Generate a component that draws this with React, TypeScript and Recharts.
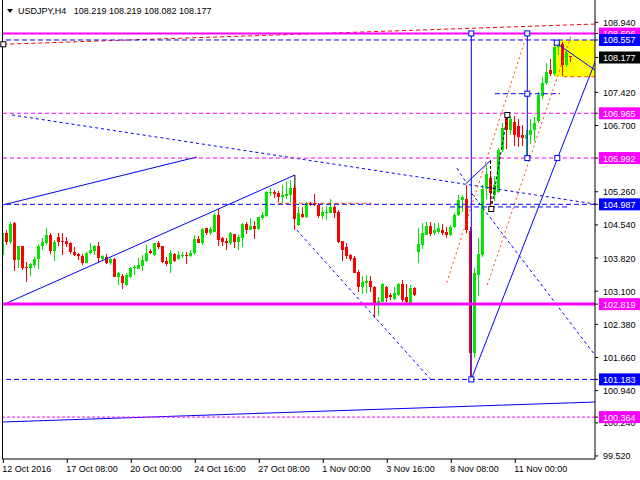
import React from 'react';
import {
  ComposedChart,
  Bar,
  XAxis,
  YAxis,
  ReferenceLine,
  ReferenceArea,
  ReferenceDot,
} from 'recharts';

// USDJPY H4 candles, left to right
const OPEN = [
  103.886, 104.371, 104.176, 104.574, 103.777, 104.081, 103.618, 103.596, 103.669, 103.792,
  104.081, 104.139, 104.32, 103.98, 104.284, 104.197, 104.197, 104.154, 103.958, 103.908,
  103.871, 103.719, 103.922, 103.973, 104.081, 103.799, 103.85, 103.705, 103.799, 103.401,
  103.43, 103.235, 103.416, 103.597, 103.582, 103.647, 103.763, 103.973, 103.886, 104.14,
  104.082, 103.763, 103.691, 103.908, 103.792, 103.865, 103.879, 103.865, 103.922, 104.234,
  104.14, 104.466, 104.357, 104.393, 104.755, 104.248, 104.198, 104.14, 104.335, 104.176,
  104.248, 104.56, 104.429, 104.516, 104.444, 104.683, 104.734, 105.226, 105.262, 105.241,
  105.139, 105.168, 105.19, 105.335, 104.538, 104.777, 104.719, 105.023, 105.009, 104.973,
  104.734, 104.806, 104.806, 104.936, 104.828, 104.198, 104.053, 103.89, 103.81, 103.52,
  103.2, 103.27, 103.33, 103.2, 102.82, 102.87, 103.2, 103.02, 102.92, 103.02,
  103.26, 102.97, 102.84, 103.16, 103.96, 104.1, 104.32, 104.52, 104.36, 104.38,
  104.43, 104.39, 104.32, 104.5, 104.76, 105.08, 105.1, 104.41, 101.75, 103.45,
  103.89, 105.33, 105.55, 105.2, 105.26, 106.17, 106.86, 106.6, 106.78, 106.69,
  106.49, 106.4, 106.5, 106.6, 106.8, 107.33, 107.62, 107.9, 107.82, 108.4,
  108.48, 108.01, 108.219,
];
const HIGH = [
  104.465, 104.429, 104.61, 104.596, 104.09, 104.09, 103.741, 103.719, 103.85, 104.125,
  104.248, 104.465, 104.371, 104.212, 104.357, 104.371, 104.284, 104.16, 104.067, 103.922,
  103.908, 103.958, 104.139, 104.103, 104.176, 103.886, 103.908, 103.813, 103.81, 103.524,
  103.473, 103.488, 103.633, 103.669, 103.814, 103.886, 104.104, 104.009, 104.154, 104.19,
  104.09, 103.836, 103.995, 103.922, 103.98, 103.959, 103.959, 103.995, 104.314, 104.299,
  104.466, 104.48, 104.487, 104.792, 104.878, 104.285, 104.248, 104.393, 104.34, 104.321,
  104.589, 104.611, 104.683, 104.632, 104.719, 104.828, 105.284, 105.335, 105.298, 105.284,
  105.407, 105.48, 105.516, 105.4, 104.936, 104.922, 105.045, 105.045, 105.212, 105.023,
  104.922, 104.951, 105.096, 104.973, 104.864, 104.2, 104.154, 103.9, 103.86, 103.56,
  103.42, 103.45, 103.43, 103.21, 102.98, 103.27, 103.21, 103.05, 103.18, 103.27,
  103.34, 103.26, 103.24, 103.2, 104.47, 104.59, 104.61, 104.61, 104.59, 104.59,
  104.55, 104.5, 104.54, 104.79, 105.19, 105.19, 105.41, 104.5, 103.6, 104.25,
  105.41, 105.84, 105.66, 105.6, 106.2, 106.75, 106.95, 106.9, 106.9, 106.85,
  106.7, 106.6, 106.85, 106.88, 107.43, 107.76, 108.05, 108.14, 108.557, 108.55,
  108.52, 108.34, 108.219,
];
const LOW = [
  103.777, 104.103, 104.139, 103.524, 103.618, 103.56, 103.306, 103.43, 103.618, 103.574,
  103.995, 104.103, 103.922, 103.763, 104.067, 103.886, 104.067, 103.908, 103.864, 103.777,
  103.669, 103.71, 103.908, 103.886, 103.719, 103.755, 103.69, 103.669, 103.393, 103.234,
  103.14, 103.213, 103.401, 103.452, 103.575, 103.546, 103.741, 103.908, 103.865, 104.017,
  103.72, 103.647, 103.502, 103.72, 103.778, 103.836, 103.691, 103.85, 103.886, 104.14,
  104.104, 104.335, 104.321, 104.386, 104.082, 104.082, 103.995, 104.104, 104.031, 103.995,
  104.067, 104.357, 104.415, 104.248, 104.429, 104.661, 104.719, 105.154, 105.117, 105.045,
  105.009, 105.117, 105.009, 104.429, 104.53, 104.683, 104.705, 104.951, 104.951, 104.705,
  104.661, 104.647, 104.792, 104.683, 104.14, 103.763, 103.814, 103.74, 103.49, 103.09,
  103.02, 103.05, 103.09, 102.51, 102.56, 102.85, 102.87, 102.89, 102.89, 102.98,
  102.87, 102.85, 102.82, 103.0, 103.71, 104.03, 104.32, 104.3, 104.34, 104.36,
  104.32, 104.27, 104.3, 104.47, 104.73, 104.83, 104.36, 101.183, 101.64, 102.98,
  103.85, 105.1, 104.89, 105.05, 105.23, 106.13, 106.2, 106.49, 106.24, 106.24,
  106.24, 105.99, 106.31, 106.35, 106.76, 107.29, 107.58, 107.76, 107.78, 108.22,
  107.78, 107.98, 108.082,
];
const CLOSE = [
  104.371, 104.176, 104.559, 103.777, 104.081, 103.596, 103.596, 103.69, 103.799, 104.081,
  104.161, 104.32, 103.973, 104.176, 104.176, 104.176, 104.125, 103.944, 103.886, 103.864,
  103.719, 103.922, 103.995, 104.081, 103.813, 103.864, 103.705, 103.799, 103.415, 103.487,
  103.271, 103.452, 103.611, 103.633, 103.669, 103.778, 103.937, 103.922, 104.14, 104.053,
  103.741, 103.691, 103.922, 103.763, 103.886, 103.886, 103.865, 103.937, 104.227, 104.154,
  104.444, 104.357, 104.444, 104.755, 104.212, 104.176, 104.14, 104.357, 104.176, 104.285,
  104.56, 104.429, 104.516, 104.444, 104.705, 104.755, 105.262, 105.262, 105.212, 105.139,
  105.19, 105.212, 105.335, 104.661, 104.806, 104.719, 105.009, 104.973, 104.973, 104.734,
  104.828, 104.828, 104.936, 104.806, 104.176, 103.995, 103.865, 103.79, 103.5, 103.2,
  103.31, 103.33, 103.2, 102.82, 102.89, 103.26, 102.95, 102.97, 103.05, 103.26,
  102.91, 102.87, 103.16, 103.02, 104.13, 104.36, 104.52, 104.34, 104.42, 104.47,
  104.37, 104.32, 104.5, 104.76, 105.08, 105.15, 104.43, 101.75, 103.49, 103.91,
  105.33, 105.65, 105.24, 105.4, 106.17, 106.64, 106.6, 106.84, 106.49, 106.45,
  106.42, 106.5, 106.6, 106.76, 107.36, 107.62, 107.86, 107.82, 108.4, 108.52,
  108.01, 108.27, 108.177,
];

const TIME_TICKS = [0, 16, 32, 48, 64, 80, 96, 112, 128];
const TIME_LABELS = [
  '12 Oct 2016', '17 Oct 08:00', '20 Oct 00:00', '24 Oct 16:00', '27 Oct 08:00',
  '1 Nov 00:00', '3 Nov 16:00', '8 Nov 08:00', '11 Nov 00:00',
];

const PRICE_TICKS = [108.94, 107.42, 106.7, 105.26, 104.54, 103.82, 103.1, 102.38, 101.66, 100.94, 100.24, 99.52];
const MAGENTA_LEVELS = [108.696, 106.965, 105.992, 102.819, 100.364];
const BLUE_LEVELS = [108.557, 104.987, 101.183];
const LAST_PRICE = 108.177;

// drawn objects, as [bar index, price] end points
const BLUE_SOLID: number[][][] = [
  [[-0.2, 104.972], [48.4, 106.015]],
  [[-0.2, 102.8], [72.9, 105.624]],
  [[-0.2, 100.258], [147.9, 100.692]],
  [[117, 101.183], [148.35, 108.17]],
  [[138.35, 108.485], [148.35, 107.877]],
  [[115.7, 105.44], [121.9, 105.95]],
  [[117, 108.7], [117, 101.183]],
  [[131, 108.7], [131, 105.992]],
];
const BLUE_DOTTED: number[][][] = [
  [[2.2, 106.928], [147.9, 104.994]],
  [[73.35, 104.429], [106.85, 101.183]],
  [[117.1, 105.227], [147.9, 101.714]],
  [[113.4, 105.77], [115.9, 105.44]],
];
const BLUE_DASHED_SHORT: number[][][] = [
  [[122.9, 107.39], [139.2, 107.39]],
  [[111.7, 104.93], [141.2, 104.93]],
];
const ORANGE_DOTTED: number[][][] = [
  [[110.85, 103.284], [131, 108.703]],
  [[121, 103.234], [142.2, 108.709]],
];
const ORANGE_DASHED: number[][][] = [
  [[68.75, 105.01], [92.1, 105.01]],
  [[140, 107.76], [148.35, 107.76]],
];
const RED_DASHED: number[][][] = [[[0, 108.464], [148.35, 108.905]]];
const BLACK_DASHED: number[][][] = [
  [[121.8, 105.93], [122, 104.886]],
  [[122, 104.886], [126, 106.928]],
];
const BLACK_SOLID: number[][][] = [[[72.9, 105.624], [72.9, 105.34]]];
const BLUE_SQUARES = [
  [117, 108.7], [131, 108.7], [131, 107.39], [131, 105.992], [138.5, 105.992], [117, 101.183], [138.35, 108.5],
];
const BLACK_SQUARES = [[122, 104.886], [126, 106.928], [0, 108.464]];
const TARGET_BOX = { x1: 137.9, x2: 148.35, y1: 107.76, y2: 108.557 };

const X_DOMAIN = [-0.2, 147.925];
const Y_DOMAIN = [99.454, 109.426];

const BULL = '#00e600';
const BEAR = '#ff0000';
const FONT = '"Liberation Sans", Arial, sans-serif';

const bars = OPEN.map((o, i) => ({
  i,
  open: o,
  high: HIGH[i],
  low: LOW[i],
  close: CLOSE[i],
  range: [LOW[i], HIGH[i]],
}));

const yTicks = [...PRICE_TICKS, ...MAGENTA_LEVELS, ...BLUE_LEVELS, LAST_PRICE];

const Candle = (props: any) => {
  const { x, y, width, height, payload } = props;
  if (!payload) return null;
  const { open, close, high, low } = payload;
  const span = high - low;
  const toY = (v: number) => (span > 0 ? y + ((high - v) / span) * height : y);
  const cx = Math.floor(x + width / 2);
  const color = close >= open ? BULL : BEAR;
  const top = Math.round(toY(Math.max(open, close)));
  const bottom = Math.round(toY(Math.min(open, close)));
  return (
    <g shapeRendering="crispEdges">
      <rect x={cx} y={Math.round(y)} width={1} height={Math.max(1, Math.round(height))} fill={color} />
      <rect x={cx - 1} y={top} width={3} height={Math.max(1, bottom - top)} fill={color} />
    </g>
  );
};

const PriceTick = (props: any) => {
  const { x, y, payload } = props;
  const v = payload.value;
  let bg: string | null = null;
  if (MAGENTA_LEVELS.includes(v)) bg = '#ff00ff';
  else if (BLUE_LEVELS.includes(v)) bg = '#0000ff';
  else if (v === LAST_PRICE) bg = '#000000';
  return (
    <g>
      {bg && <rect x={x - 4} y={y - 6} width={42} height={12} fill={bg} />}
      <text x={x} y={y + 3.5} fill={bg ? '#fff' : '#000'} fontSize={9} fontFamily={FONT}>
        {v.toFixed(3)}
      </text>
    </g>
  );
};

const TimeTick = (props: any) => {
  const { x, y, payload } = props;
  const idx = TIME_TICKS.indexOf(payload.value);
  return (
    <text x={x - 1} y={y + 7} fill="#000" fontSize={9} fontFamily={FONT}>
      {TIME_LABELS[idx]}
    </text>
  );
};

const square = (stroke: string) => (p: any) => (
  <rect x={p.cx - 2.5} y={p.cy - 2.5} width={5} height={5} fill="#fff" stroke={stroke} strokeWidth={1} />
);

const seg = (s: number[][]) => [
  { x: s[0][0], y: s[0][1] },
  { x: s[1][0], y: s[1][1] },
];

export default function App() {
  return (
    <div style={{ position: 'absolute', left: 0, top: 0, width: 640, height: 480, background: '#fff', overflow: 'hidden' }}>
      <ComposedChart width={640} height={480} data={bars} margin={{ top: 0, right: 0, bottom: 0, left: 2.5 }}>
        <XAxis
          dataKey="i"
          type="number"
          domain={X_DOMAIN}
          allowDataOverflow
          ticks={TIME_TICKS}
          interval={0}
          tick={<TimeTick />}
          tickSize={4}
          tickMargin={2}
          height={21}
          stroke="#000"
        />
        <YAxis
          orientation="right"
          type="number"
          domain={Y_DOMAIN}
          allowDataOverflow
          ticks={yTicks}
          interval={0}
          tick={<PriceTick />}
          tickSize={3}
          tickMargin={5}
          width={45}
          stroke="#000"
        />
        <ReferenceArea
          x1={TARGET_BOX.x1}
          x2={TARGET_BOX.x2}
          y1={TARGET_BOX.y1}
          y2={TARGET_BOX.y2}
          fill="#ffff00"
          fillOpacity={1}
          stroke="none"
          ifOverflow="hidden"
        />
        <Bar dataKey="range" barSize={3} shape={<Candle />} isAnimationActive={false} />

        {BLUE_SOLID.map((s, k) => (
          <ReferenceLine key={`bs${k}`} segment={seg(s)} stroke="#0000ff" strokeWidth={1} ifOverflow="hidden" />
        ))}
        {BLUE_DOTTED.map((s, k) => (
          <ReferenceLine key={`bd${k}`} segment={seg(s)} stroke="#0000ff" strokeDasharray="3 3" ifOverflow="hidden" />
        ))}
        {BLUE_DASHED_SHORT.map((s, k) => (
          <ReferenceLine key={`bh${k}`} segment={seg(s)} stroke="#0000ff" strokeDasharray="5 3" ifOverflow="hidden" />
        ))}
        {ORANGE_DOTTED.map((s, k) => (
          <ReferenceLine key={`od${k}`} segment={seg(s)} stroke="#ff4500" strokeDasharray="2 3" ifOverflow="hidden" />
        ))}
        {ORANGE_DASHED.map((s, k) => (
          <ReferenceLine key={`oh${k}`} segment={seg(s)} stroke="#ff4500" strokeDasharray="4 3" ifOverflow="hidden" />
        ))}
        {RED_DASHED.map((s, k) => (
          <ReferenceLine key={`rd${k}`} segment={seg(s)} stroke="#ff0000" strokeDasharray="4 3" ifOverflow="hidden" />
        ))}
        {BLACK_DASHED.map((s, k) => (
          <ReferenceLine key={`kd${k}`} segment={seg(s)} stroke="#000" strokeDasharray="3 2" ifOverflow="hidden" />
        ))}
        {BLACK_SOLID.map((s, k) => (
          <ReferenceLine key={`ks${k}`} segment={seg(s)} stroke="#000" ifOverflow="hidden" />
        ))}

        {BLUE_LEVELS.map((v) => (
          <ReferenceLine key={`bl${v}`} y={v} stroke="#0000ff" strokeDasharray="5 3" />
        ))}
        <ReferenceLine y={MAGENTA_LEVELS[0]} stroke="#ff00ff" strokeWidth={2} />
        <ReferenceLine y={MAGENTA_LEVELS[1]} stroke="#ff00ff" strokeDasharray="4 3" />
        <ReferenceLine y={MAGENTA_LEVELS[2]} stroke="#ff00ff" strokeDasharray="4 3" />
        <ReferenceLine y={MAGENTA_LEVELS[3]} stroke="#ff00ff" strokeWidth={3} />
        <ReferenceLine y={MAGENTA_LEVELS[4]} stroke="#ff00ff" strokeDasharray="3 2" />
        <ReferenceLine x={X_DOMAIN[0]} stroke="#000" />

        {BLUE_SQUARES.map((p, k) => (
          <ReferenceDot key={`sq${k}`} x={p[0]} y={p[1]} r={3} shape={square('#0000ff')} />
        ))}
        {BLACK_SQUARES.map((p, k) => (
          <ReferenceDot key={`sk${k}`} x={p[0]} y={p[1]} r={3} shape={square('#000')} />
        ))}
      </ComposedChart>
      <div
        style={{
          position: 'absolute',
          left: 7,
          top: 9,
          width: 0,
          height: 0,
          borderLeft: '3px solid transparent',
          borderRight: '3px solid transparent',
          borderTop: '4px solid #000',
        }}
      />
      <div
        style={{
          position: 'absolute',
          left: 18,
          top: 6,
          fontFamily: FONT,
          fontSize: 9,
          lineHeight: '10px',
          color: '#000',
          whiteSpace: 'pre',
        }}
      >
        {'USDJPY,H4   108.219 108.219 108.082 108.177'}
      </div>
    </div>
  );
}
